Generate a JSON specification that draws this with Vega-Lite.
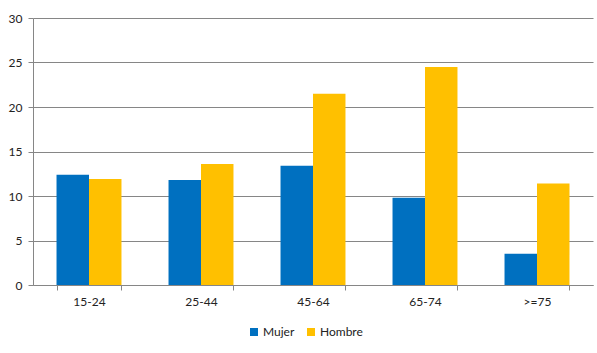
{
  "$schema": "https://vega.github.io/schema/vega-lite/v6.json",
  "autosize": {"type": "none"},
  "padding": {"left": 33, "top": 18, "right": 4, "bottom": 68},
  "width": 560,
  "height": 267,
  "background": "white",
  "config": {
    "view": {"stroke": null},
    "font": "Lato",
    "axis": {"labelFont": "Lato", "labelFontSize": 12, "labelColor": "#222222", "domainColor": "#868686", "tickColor": "#868686", "gridColor": "#868686", "title": null},
    "legend": {"labelFont": "Lato", "labelFontSize": 12, "labelColor": "#222222"}
  },
  "data": {
    "values": [
      {"edad": "15-24", "sexo": "Mujer", "valor": 12.4},
      {"edad": "15-24", "sexo": "Hombre", "valor": 11.9},
      {"edad": "25-44", "sexo": "Mujer", "valor": 11.8},
      {"edad": "25-44", "sexo": "Hombre", "valor": 13.6},
      {"edad": "45-64", "sexo": "Mujer", "valor": 13.4},
      {"edad": "45-64", "sexo": "Hombre", "valor": 21.5},
      {"edad": "65-74", "sexo": "Mujer", "valor": 9.8},
      {"edad": "65-74", "sexo": "Hombre", "valor": 24.5},
      {"edad": ">=75", "sexo": "Mujer", "valor": 3.5},
      {"edad": ">=75", "sexo": "Hombre", "valor": 11.4}
    ]
  },
  "mark": {"type": "bar"},
  "encoding": {
    "x": {
      "field": "edad", "type": "nominal", "sort": null,
      "scale": {"paddingInner": 0.42, "paddingOuter": 0.21},
      "axis": {"labelAngle": 0, "tickBand": "extent", "tickSize": 5, "grid": false, "labelPadding": 6, "domainWidth": 1}
    },
    "xOffset": {"field": "sexo", "type": "nominal", "sort": ["Mujer", "Hombre"], "scale": {"paddingInner": 0, "paddingOuter": 0}},
    "y": {
      "field": "valor", "type": "quantitative",
      "scale": {"domain": [0, 30]},
      "axis": {"values": [0, 5, 10, 15, 20, 25, 30], "grid": true, "tickSize": 5, "labelPadding": 6, "domain": true}
    },
    "color": {
      "field": "sexo", "type": "nominal",
      "scale": {"domain": ["Mujer", "Hombre"], "range": ["#0070C0", "#FFC000"]},
      "legend": {"title": null, "orient": "none", "direction": "horizontal", "legendX": 215, "legendY": 308, "symbolType": "square", "symbolSize": 64, "symbolStrokeWidth": 0, "columnPadding": 10, "labelOffset": 3}
    }
  }
}
